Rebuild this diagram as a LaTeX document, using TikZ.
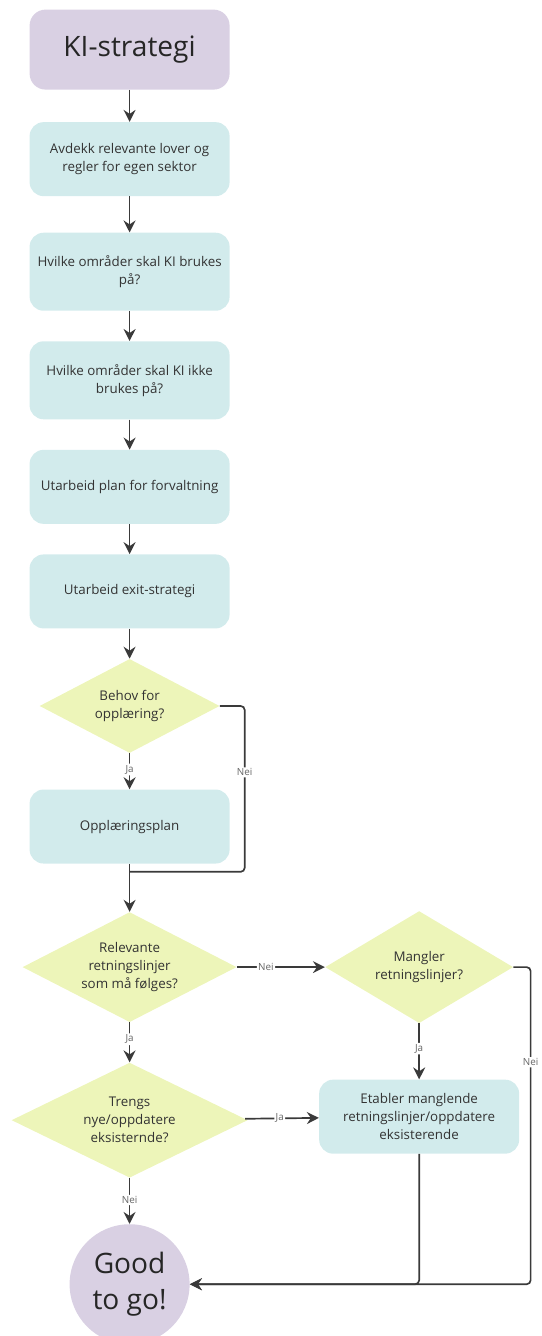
\documentclass[tikz,border=0pt]{standalone}
\usepackage{fontspec}
\setmainfont{Open Sans}
\usetikzlibrary{arrows.meta,positioning,shapes.geometric}
\definecolor{lilla}{HTML}{D9D0E3}
\definecolor{blaa}{HTML}{D2EBEC}
\definecolor{gul}{HTML}{EDF5B9}
\definecolor{strek}{HTML}{3A3A3A}
\tikzset{
  frame/.style={
    rectangle, fill=blaa, text=black!80,
    minimum width=5cm, minimum height=1.85cm,
    align=center, rounded corners=3.5mm,
    font=\fontsize{9.5}{12.8}\selectfont,
  },
  ends/.style={
    fill=lilla, text=black!85, align=center,
    font=\fontsize{20}{25}\selectfont,
  },
  choice/.style={
    diamond, fill=gul, text=black!80, inner sep=0pt,
    align=center, font=\fontsize{9.5}{12.8}\selectfont,
  },
  line/.style={
    draw=strek, -{Stealth[length=3mm,width=3mm,inset=1mm]},
    line width=1.2pt, rounded corners=1mm,
  },
  tag/.style={
    fill=white, text=black!60, inner sep=1pt,
    font=\fontsize{7}{8}\selectfont,
  }
}

\begin{document}
\begin{tikzpicture}
\useasboundingbox (0,0) rectangle (13.525,-33.4);
% hovedlinje
\node [frame, ends, minimum height=2cm, rounded corners=4mm] (ki) at (3.24,-1.24) {KI-strategi};
\node [frame, below=8mm of ki] (avd) {Avdekk relevante lover og\\regler for egen sektor};
\node [frame, below=9mm of avd, minimum height=1.95cm] (omr) {Hvilke områder skal KI brukes\\på?};
\node [frame, below=7.5mm of omr, minimum height=1.95cm] (ikke) {Hvilke områder skal KI ikke\\brukes på?};
\node [frame, below=7.5mm of ikke] (forv) {Utarbeid plan for forvaltning};
\node [frame, below=7.5mm of forv] (exit) {Utarbeid exit-strategi};
% opplaering
\node [choice, below=7.5mm of exit, minimum width=4.5cm, minimum height=2.35cm, aspect=1.9] (beh) {Behov for\\opplæring?};
\node [frame, below=9mm of beh] (opl) {Opplæringsplan};
\coordinate [below=2mm of opl] (sam);
% retningslinjer
\node [choice, below=12mm of opl, minimum width=5.35cm, minimum height=2.75cm, aspect=1.95] (rel) {Relevante\\retningslinjer\\som må følges?};
\node [choice, right=22mm of rel, minimum width=4.7cm, minimum height=2.8cm, aspect=1.7] (mgl) {Mangler\\retningslinjer?};
\node [choice, below=10mm of rel, minimum width=5.9cm, minimum height=2.875cm, aspect=2.05] (tre) {Trengs\\nye/oppdatere\\eksisternde?};
\node [frame, below=14mm of mgl] (etb) {Etabler manglende\\retningslinjer/oppdatere\\eksisterende};
\node [circle, ends, minimum size=3cm, inner sep=1pt, below=11.5mm of tre] (good) {Good\\to go!};

\path [line] (ki) -- (avd);
\path [line] (avd) -- (omr);
\path [line] (omr) -- (ikke);
\path [line] (ikke) -- (forv);
\path [line] (forv) -- (exit);
\path [line] (exit) -- (beh);
\path [line] (beh) -- node[tag, pos=0.45] {Ja} (opl);
\path [line, -] (beh.east) -- ++(0.62,0) |- node[tag, pos=0.2] {Nei} (sam);
\path [line] (opl) -- (rel);
\path [line] (rel) -- node[tag, pos=0.33] {Nei} (mgl);
\path [line] (rel) -- node[tag, pos=0.42] {Ja} (tre);
\path [line] (mgl) -- node[tag, pos=0.45] {Ja} (etb);
\path [line] (tre) -- node[tag, pos=0.47] {Ja} (etb);
\path [line] (tre) -- node[tag, pos=0.48] {Nei} (good);
\path [line] (mgl.east) -- ++(0.43,0) |- node[tag, pos=0.15] {Nei} (good.east);
\path [line] (etb) |- (good.east);
\end{tikzpicture}
\end{document}
